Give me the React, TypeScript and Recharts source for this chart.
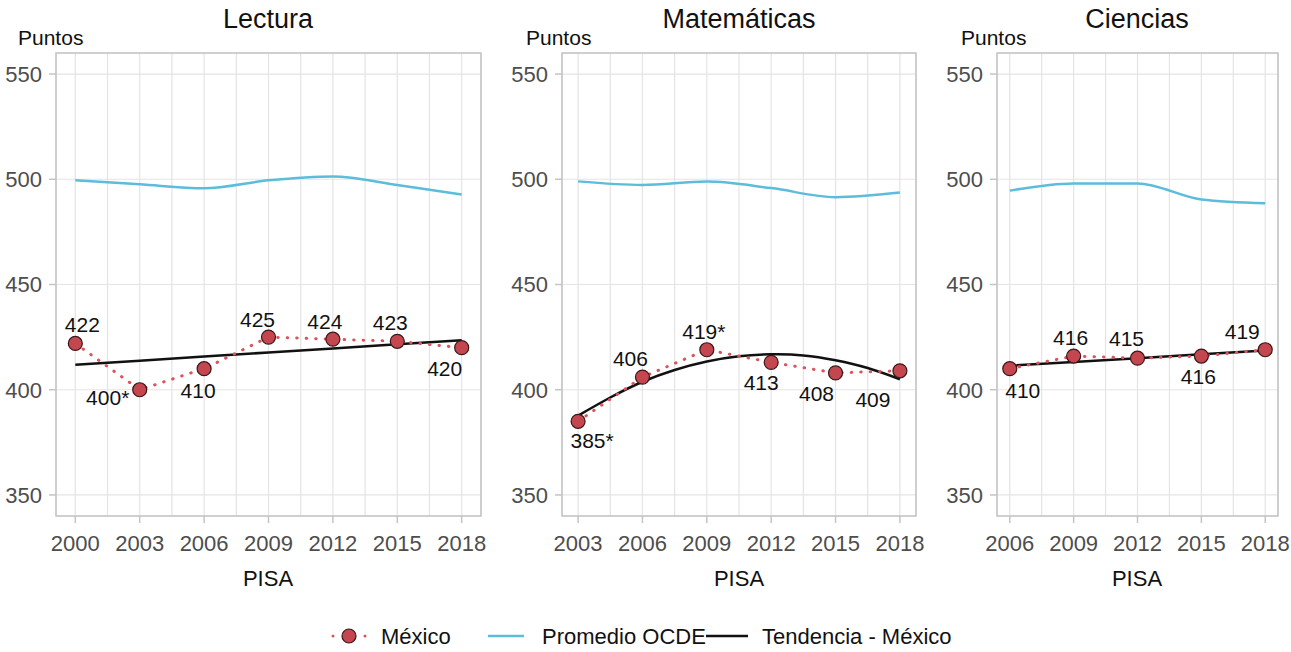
import { LineChart, Line, XAxis, YAxis, CartesianGrid, ReferenceArea, LabelList } from 'recharts';

const FONT = '"Liberation Sans", Arial, sans-serif';

// Lectura
const lecturaYears = [2000, 2003, 2006, 2009, 2012, 2015, 2018];
const lecturaGrid = [2000, 2001.5, 2003, 2004.5, 2006, 2007.5, 2009, 2010.5, 2012, 2013.5, 2015, 2016.5, 2018];
const lecturaMexico = [422, 400, 410, 425, 424, 423, 420];
const lecturaLabels = ['422', '400*', '410', '425', '424', '423', '420'];
const lecturaOcde = [499.5, 497.6, 495.7, 499.5, 501.3, 497.3, 492.8];
const lecturaTrendYears = [2000, 2003, 2006, 2009, 2012, 2015, 2018];
const lecturaTrend = [411.9, 413.8, 415.8, 417.7, 419.6, 421.6, 423.5];

// Matemáticas
const mateYears = [2003, 2006, 2009, 2012, 2015, 2018];
const mateGrid = [2003, 2004.5, 2006, 2007.5, 2009, 2010.5, 2012, 2013.5, 2015, 2016.5, 2018];
const mateMexico = [385, 406, 419, 413, 408, 409];
const mateLabels = ['385*', '406', '419*', '413', '408', '409'];
const mateOcde = [499, 497.3, 498.9, 495.8, 491.5, 493.7];
const mateTrendYears = [2003, 2004.5, 2006, 2007.5, 2009, 2010.5, 2012, 2013.5, 2015, 2016.5, 2018];
const mateTrend = [387.7, 396.3, 403.8, 409.4, 413.4, 415.9, 416.8, 416.3, 414.0, 410.3, 405.0];

// Ciencias
const cienYears = [2006, 2009, 2012, 2015, 2018];
const cienGrid = [2006, 2007.5, 2009, 2010.5, 2012, 2013.5, 2015, 2016.5, 2018];
const cienMexico = [410, 416, 415, 416, 419];
const cienLabels = ['410', '416', '415', '416', '419'];
const cienOcde = [494.6, 498, 498, 490.4, 488.6];
const cienTrendYears = [2006, 2009, 2012, 2015, 2018];
const cienTrend = [411.4, 413.2, 415, 416.8, 418.6];

const yTicks = [350, 400, 450, 500, 550];

// label offsets (dx, dy) from each point
const lecturaNudge = [[7, -11], [-32, 15], [-6, 29], [-11, -10], [-8, -10], [-7, -11], [-17, 28]];
const mateNudge = [[14, 27], [-12, -11], [-3, -11], [-10, 28], [-19, 28], [-27, 36]];
const cienNudge = [[13, 29], [-3, -11], [-11, -12], [-3, 28], [-23, -11]];

const RED = '#c4474f';
const BLUE = '#5cbcdc';
const GRID = '#e4e4e4';
const BORDER = '#c4c4c4';
const TICK_SIZE = 7;
const TICK_MARGIN = 12;

const XTick = (props: any) => {
    const { x, y, payload, majors } = props;
    if (!majors.includes(payload.value)) return <g />;
    return (
        <g>
            <line x1={x} x2={x} y1={y - TICK_SIZE - TICK_MARGIN} y2={y - TICK_MARGIN} stroke={BORDER} strokeWidth={1.5} />
            <text x={x} y={y} dy="0.71em" textAnchor="middle" fill="#4d4d4d" fontSize={22} fontFamily={FONT}>
                {payload.value}
            </text>
        </g>
    );
};

type PanelProps = {
    left: number;
    width: number;
    yWidth: number;
    right: number;
    years: number[];
    grid: number[];
    mexico: number[];
    labels: string[];
    nudge: number[][];
    ocde: number[];
    trendYears: number[];
    trend: number[];
    trendType: 'linear' | 'natural';
};

const Panel = (p: PanelProps) => {
    const span = p.years[p.years.length - 1] - p.years[0];
    const domain = [p.years[0] - span * 0.05, p.years[p.years.length - 1] + span * 0.05];
    const mexRows = p.years.map((year, i) => ({ year, value: p.mexico[i], label: p.labels[i] }));
    const ocdeRows = p.years.map((year, i) => ({ year, value: p.ocde[i] }));
    const trendRows = p.trendYears.map((year, i) => ({ year, value: p.trend[i] }));

    return (
        <div style={{ position: 'absolute', left: p.left, top: 0 }}>
            <LineChart width={p.width} height={600} margin={{ top: 53, right: p.right, left: 0, bottom: 54 }}>
                <CartesianGrid stroke={GRID} strokeWidth={1.2} />
                <XAxis
                    dataKey="year"
                    type="number"
                    domain={domain}
                    ticks={p.grid}
                    interval={0}
                    height={30}
                    allowDataOverflow
                    axisLine={false}
                    tickLine={false}
                    tickSize={TICK_SIZE}
                    tickMargin={TICK_MARGIN}
                    tick={(t: any) => <XTick {...t} majors={p.years} />}
                />
                <YAxis
                    type="number"
                    domain={[340, 560]}
                    ticks={yTicks}
                    width={p.yWidth}
                    axisLine={false}
                    tickSize={7}
                    tickMargin={7}
                    tickLine={{ stroke: BORDER, strokeWidth: 1.5 }}
                    tick={{ fill: '#4d4d4d', fontSize: 22, fontFamily: FONT }}
                />
                <ReferenceArea x1={domain[0]} x2={domain[1]} y1={340} y2={560} fill="none" stroke={BORDER} strokeWidth={1.5} />
                <Line data={ocdeRows} dataKey="value" type="monotone" stroke={BLUE} strokeWidth={2.5} dot={false} activeDot={false} isAnimationActive={false} />
                <Line data={trendRows} dataKey="value" type={p.trendType} stroke="#111111" strokeWidth={2.5} dot={false} activeDot={false} isAnimationActive={false} />
                <Line
                    data={mexRows}
                    dataKey="value"
                    type="linear"
                    stroke="#d9545c"
                    strokeWidth={3}
                    strokeDasharray="0.5 9"
                    strokeLinecap="round"
                    activeDot={false}
                    isAnimationActive={false}
                    dot={(d: any) => (
                        <circle key={d.index} cx={d.cx} cy={d.cy} r={7} fill={RED} stroke="#3a1719" strokeWidth={1.2} />
                    )}
                >
                    <LabelList
                        dataKey="label"
                        content={(l: any) => {
                            const n = p.nudge[l.index];
                            return (
                                <text x={l.x + n[0]} y={l.y + n[1]} textAnchor="middle" fill="#111" fontSize={21} fontFamily={FONT}>
                                    {l.value}
                                </text>
                            );
                        }}
                    />
                </Line>
            </LineChart>
        </div>
    );
};

const App = () => {
    return (
        <div style={{ position: 'absolute', left: 0, top: 0, width: 1291, height: 652, background: '#fff', fontFamily: FONT }}>
            <Panel left={0} width={490} yWidth={56} right={9} years={lecturaYears} grid={lecturaGrid} mexico={lecturaMexico}
                labels={lecturaLabels} nudge={lecturaNudge} ocde={lecturaOcde} trendYears={lecturaTrendYears} trend={lecturaTrend} trendType="linear" />
            <Panel left={500} width={430} yWidth={62} right={14} years={mateYears} grid={mateGrid} mexico={mateMexico}
                labels={mateLabels} nudge={mateNudge} ocde={mateOcde} trendYears={mateTrendYears} trend={mateTrend} trendType="natural" />
            <Panel left={935} width={356} yWidth={62} right={13} years={cienYears} grid={cienGrid} mexico={cienMexico}
                labels={cienLabels} nudge={cienNudge} ocde={cienOcde} trendYears={cienTrendYears} trend={cienTrend} trendType="linear" />

            <svg width={1291} height={652} style={{ position: 'absolute', left: 0, top: 0, pointerEvents: 'none' }} fontFamily={FONT}>
                <text x={268} y={28} textAnchor="middle" fontSize={27} fill="#111">Lectura</text>
                <text x={739} y={28} textAnchor="middle" fontSize={27} fill="#111">Matemáticas</text>
                <text x={1137} y={28} textAnchor="middle" fontSize={27} fill="#111">Ciencias</text>

                <text x={18} y={45} fontSize={21} fill="#111">Puntos</text>
                <text x={526} y={45} fontSize={21} fill="#111">Puntos</text>
                <text x={961} y={45} fontSize={21} fill="#111">Puntos</text>

                <text x={268} y={586} textAnchor="middle" fontSize={22} fill="#111">PISA</text>
                <text x={739} y={586} textAnchor="middle" fontSize={22} fill="#111">PISA</text>
                <text x={1137} y={586} textAnchor="middle" fontSize={22} fill="#111">PISA</text>

                <circle cx={333} cy={636} r={1.5} fill="#d9545c" />
                <circle cx={365} cy={636} r={1.5} fill="#d9545c" />
                <circle cx={349} cy={636} r={7} fill={RED} stroke="#3a1719" strokeWidth={1.2} />
                <text x={381} y={644} fontSize={22} fill="#111">México</text>
                <line x1={488} x2={524} y1={636} y2={636} stroke={BLUE} strokeWidth={2.5} />
                <text x={542} y={644} fontSize={22} fill="#111">Promedio OCDE</text>
                <line x1={706} x2={748} y1={636} y2={636} stroke="#111" strokeWidth={2.5} />
                <text x={762} y={644} fontSize={22} fill="#111">Tendencia - México</text>
            </svg>
        </div>
    );
};

export default App;
